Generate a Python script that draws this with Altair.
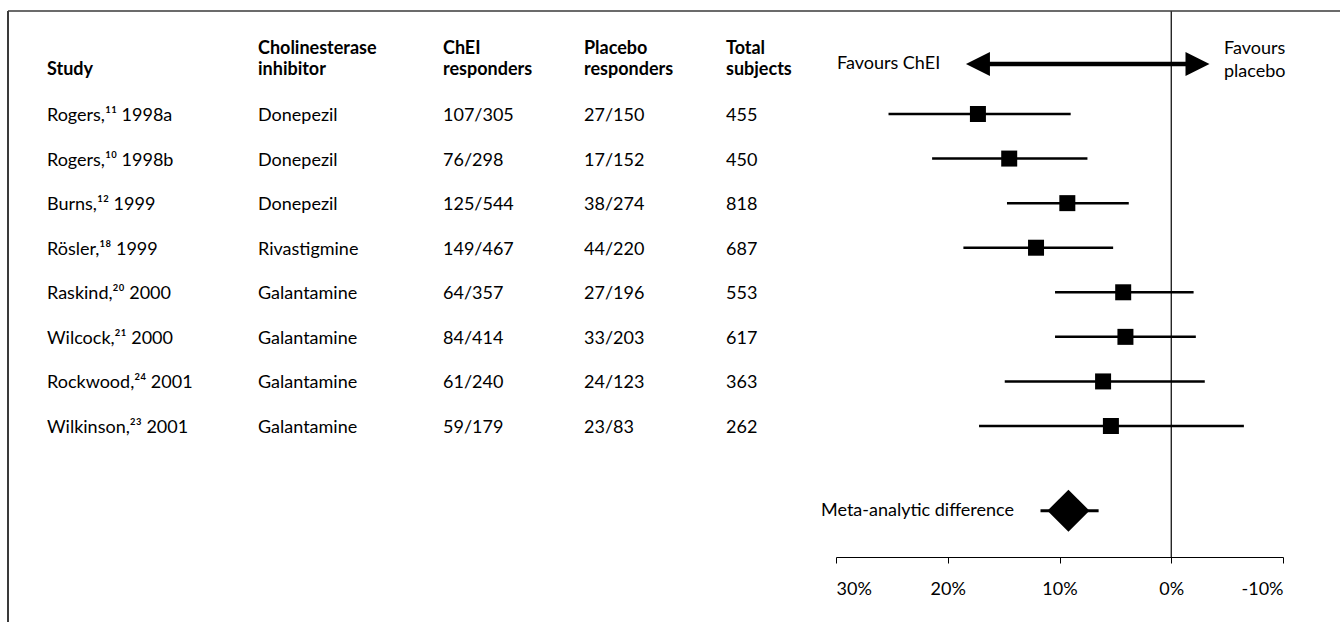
import altair as alt
import pandas as pd

# ---- data ----
studies = ["Rogers,¹¹ 1998a", "Rogers,¹⁰ 1998b", "Burns,¹² 1999", "Rösler,¹⁸ 1999",
           "Raskind,²⁰ 2000", "Wilcock,²¹ 2000", "Rockwood,²⁴ 2001", "Wilkinson,²³ 2001"]
inhibitors = ["Donepezil", "Donepezil", "Donepezil", "Rivastigmine",
              "Galantamine", "Galantamine", "Galantamine", "Galantamine"]
chei_resp = ["107/305", "76/298", "125/544", "149/467", "64/357", "84/414", "61/240", "59/179"]
placebo_resp = ["27/150", "17/152", "38/274", "44/220", "27/196", "33/203", "24/123", "23/83"]
total_subjects = ["455", "450", "818", "687", "553", "617", "363", "262"]
difference = [17.3, 14.5, 9.3, 12.1, 4.3, 4.1, 6.1, 5.4]
ci_upper = [25.3, 21.4, 14.7, 18.6, 10.4, 10.4, 14.9, 17.2]
ci_lower = [9.0, 7.5, 3.8, 5.2, -2.0, -2.2, -3.0, -6.5]
rows = [1, 2, 3, 4, 5, 6, 7, 8]

meta_label = ["Meta-analytic difference"]
meta_difference = [9.2]
meta_ci_upper = [11.7]
meta_ci_lower = [6.5]
meta_row = [9.9]

header_line1 = ["", "Cholinesterase", "ChEI", "Placebo", "Total"]
header_line2 = ["Study", "inhibitor", "responders", "responders", "subjects"]
tick_values = [30, 20, 10, 0, -10]
arrow_heads = [17.3, -2.35]

FONT = "Lato"
FS = 18

df = pd.DataFrame({
    "study": studies, "inhibitor": inhibitors, "chei": chei_resp,
    "placebo": placebo_resp, "total": total_subjects,
    "diff": difference, "hi": ci_upper, "lo": ci_lower, "row": rows,
})
meta_df = pd.DataFrame({"label": meta_label, "diff": meta_difference,
                        "hi": meta_ci_upper, "lo": meta_ci_lower, "row": meta_row})

xscale = alt.Scale(domain=[30, -10], range=[836, 1283], nice=False, zero=False)
yscale = alt.Scale(domain=[1, 8], range=[114, 426], nice=False, zero=False)

xaxis = alt.Axis(values=tick_values, labelExpr="datum.value + '%'", title=None, grid=False,
                 domainColor="black", tickColor="black", tickSize=6, domainWidth=1,
                 labelFontSize=FS, labelFont=FONT, labelColor="black", labelPadding=17)

base = alt.Chart(df)

ci = base.mark_rule(color="black", strokeWidth=2.5).encode(
    x=alt.X("hi:Q", scale=xscale, axis=xaxis), x2="lo:Q",
    y=alt.Y("row:Q", scale=yscale, axis=None))
squares = base.mark_square(color="black", size=256, opacity=1).encode(
    x=alt.X("diff:Q", scale=xscale), y=alt.Y("row:Q", scale=yscale))

meta_base = alt.Chart(meta_df)
meta_ci = meta_base.mark_rule(color="black", strokeWidth=3).encode(
    x=alt.X("hi:Q", scale=xscale), x2="lo:Q", y=alt.Y("row:Q", scale=yscale))
meta_diamond = meta_base.mark_point(shape="diamond", size=1764, filled=True,
                                    color="black", opacity=1).encode(
    x=alt.X("diff:Q", scale=xscale), y=alt.Y("row:Q", scale=yscale))
meta_text = meta_base.mark_text(align="right", baseline="middle", font=FONT,
                                fontSize=FS, color="black").encode(
    x=alt.value(1014), y=alt.Y("row:Q", scale=yscale), text="label:N")

zero_df = pd.DataFrame({"v": [0]})
zero_line = alt.Chart(zero_df).mark_rule(color="black", strokeWidth=1.2).encode(
    x=alt.X("v:Q", scale=xscale), y=alt.value(11), y2=alt.value(557))

arrow_df = pd.DataFrame({"a": [arrow_heads[0]], "b": [arrow_heads[1]]})
arrow_shaft = alt.Chart(arrow_df).mark_rule(color="black", strokeWidth=4.5).encode(
    x=alt.X("a:Q", scale=xscale), x2="b:Q", y=alt.value(64))
head_left = alt.Chart(arrow_df).mark_point(shape="M-1,0L1,-1L1,1Z", size=576, filled=True,
                                           color="black", opacity=1).encode(
    x=alt.X("a:Q", scale=xscale), y=alt.value(64))
head_right = alt.Chart(arrow_df).mark_point(shape="M1,0L-1,-1L-1,1Z", size=576, filled=True,
                                            color="black", opacity=1).encode(
    x=alt.X("b:Q", scale=xscale), y=alt.value(64))

txt = dict(align="left", baseline="middle", font=FONT, fontSize=FS, color="black")
col_x = {"study": 47, "inhibitor": 258, "chei": 443, "placebo": 584, "total": 726}
table_layers = [
    base.mark_text(dy=2, **txt).encode(x=alt.value(px), y=alt.Y("row:Q", scale=yscale),
                                       text=f"{col}:N")
    for col, px in col_x.items()
]

hdr_layers = []
for i, (col, px) in enumerate(col_x.items()):
    one = pd.DataFrame({"l1": [header_line1[i]], "l2": [header_line2[i]]})
    hdr_layers.append(alt.Chart(one).mark_text(fontWeight="bold", **txt).encode(
        x=alt.value(px), y=alt.value(49), text="l1:N"))
    hdr_layers.append(alt.Chart(one).mark_text(fontWeight="bold", **txt).encode(
        x=alt.value(px), y=alt.value(70), text="l2:N"))

fav_left = alt.Chart(pd.DataFrame({"t": ["Favours ChEI"]})).mark_text(**txt).encode(
    x=alt.value(837), y=alt.value(64), text="t:N")
fav_right1 = alt.Chart(pd.DataFrame({"t": ["Favours"]})).mark_text(**txt).encode(
    x=alt.value(1224), y=alt.value(49), text="t:N")
fav_right2 = alt.Chart(pd.DataFrame({"t": ["placebo"]})).mark_text(**txt).encode(
    x=alt.value(1224), y=alt.value(72), text="t:N")

frame_df = pd.DataFrame({"k": [0]})
frame_top = alt.Chart(frame_df).mark_rule(color="#3a3a3a", strokeWidth=1.5).encode(
    x=alt.value(8), x2=alt.value(1340), y=alt.value(11))
frame_left = alt.Chart(frame_df).mark_rule(color="#3a3a3a", strokeWidth=2).encode(
    x=alt.value(8), y=alt.value(11), y2=alt.value(622))

chart = alt.layer(
    ci, zero_line, squares, meta_ci, meta_diamond, meta_text,
    arrow_shaft, head_left, head_right, fav_left, fav_right1, fav_right2,
    frame_top, frame_left, *table_layers, *hdr_layers,
).properties(
    width=1340, height=557,
    padding={"left": 0, "right": 0, "top": 0, "bottom": 65},
    autosize=alt.AutoSizeParams(type="none"),
    background="white",
).configure_view(stroke=None)

chart.save("out.html", embed_options={"renderer": "svg", "actions": False})
